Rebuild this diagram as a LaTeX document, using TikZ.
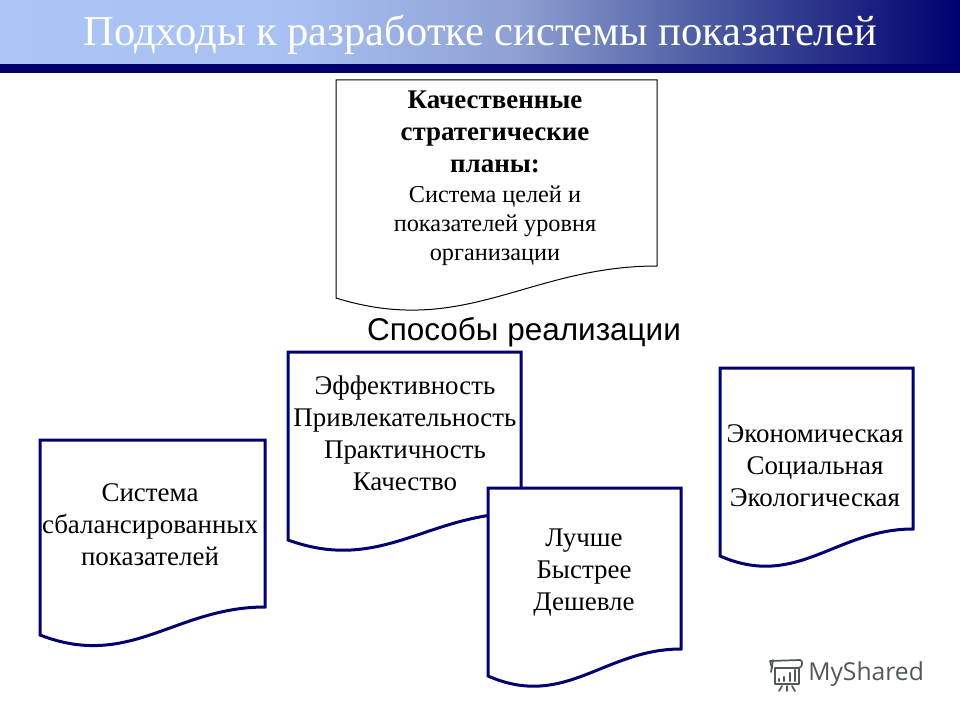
\documentclass[tikz,border=0pt]{standalone}
\usepackage{fontspec}
\setmainfont{Liberation Serif}
\setsansfont{Liberation Sans}
\newfontfamily\logofont{Open Sans}
\definecolor{navy}{HTML}{00006F}
\definecolor{headlight}{HTML}{ABC5F6}
\definecolor{headmid}{HTML}{8E9FD2}
\definecolor{headdark}{HTML}{4A5AA0}
\definecolor{logogray}{HTML}{4F5A58}
\pgfdeclarehorizontalshading{headfade}{100bp}{color(0bp)=(headlight); color(25bp)=(headlight); color(40bp)=(headlight!90!headmid); color(52bp)=(headmid); color(62bp)=(headdark); color(75bp)=(navy); color(100bp)=(navy)}
\begin{document}
\begin{tikzpicture}[x=0.75pt,y=-0.75pt,
    doctext/.style={align=center,font=\fontsize{20.2}{24}\selectfont,inner sep=0pt},
    logoline/.style={draw=logogray,line width=1.3pt,line cap=round,line join=round}]
\useasboundingbox (0,0) rectangle (960,720);
% header
\shade[shading=headfade] (0,0) rectangle (960,64);
\fill[navy] (0,64) rectangle (960,73);
\node (title) at (480,35) [text=white,inner sep=0pt,font=\fontsize{31.9}{34}\selectfont] {Подходы к разработке системы показателей};
% document boxes
\foreach \clr/\wd/\xa/\xb/\ya/\yr/\yl in {black/0.75/336/657/80/266/298,navy/2.25/40/265/440/607/635,navy/2.25/288/521/352/513/540,navy/2.25/720/913/368/529/556,navy/2.25/488/681/488/649/676}
{  \filldraw[draw=\clr,fill=white,line width=\wd pt,line join=miter]
     (\xa,\ya) -- (\xb,\ya) -- (\xb,\yr)
     .. controls ({\xa+0.6*(\xb-\xa)},\yr) and ({\xa+0.4*(\xb-\xa)},{\yl+1.25*(\yl-\yr)}) .. (\xa,\yl) -- cycle;}
\node[doctext] (plans) at (495,178) {\textbf{Качественные}\\\textbf{стратегические}\\\textbf{планы:}\\[-1.5pt]\fontsize{18.2}{24}\selectfont Система целей и\\[-2.2pt]\fontsize{18.2}{24}\selectfont показателей уровня\\[-2.2pt]\fontsize{18.2}{24}\selectfont организации};
\node (ways) at (524,332) [inner sep=0pt,font=\sffamily\fontsize{23.6}{26}\selectfont] {Способы реализации};
\node[doctext] (balanced) at (150,525) {Система\\сбалансированных\\показателей};
\node[doctext] (props) at (405,433) {Эффективность\\Привлекательность\\Практичность\\Качество};
\node[doctext] (better) at (584,573) {Лучше\\Быстрее\\Дешевле};
\node[doctext] (spheres) at (815,466) {Экономическая\\Социальная\\Экологическая};
% logo
\draw[logoline] (775,668) -- (775,684) -- (799,684) -- (799,668) -- cycle;
\draw[logoline] (772,668) -- (770,661) -- (800,660) .. controls (803,660) and (803,667) .. (799,668);
\draw[logoline] (773,660) -- (771,672);
\foreach \bx/\bh in {779/2,784/4,790/8,795/11}
{  \draw[logoline,line width=1.8pt] (\bx,681) -- (\bx,681-\bh);}
\foreach \fa/\fb in {782/779,787/787,792/795}
{  \draw[logoline] (\fa,686) -- (\fb,691);}
\node (logo) at (808,674) [anchor=west,inner sep=0pt,text=logogray,font=\logofont\fontsize{18.5}{20}\selectfont] {MyShared};
\end{tikzpicture}
\end{document}
